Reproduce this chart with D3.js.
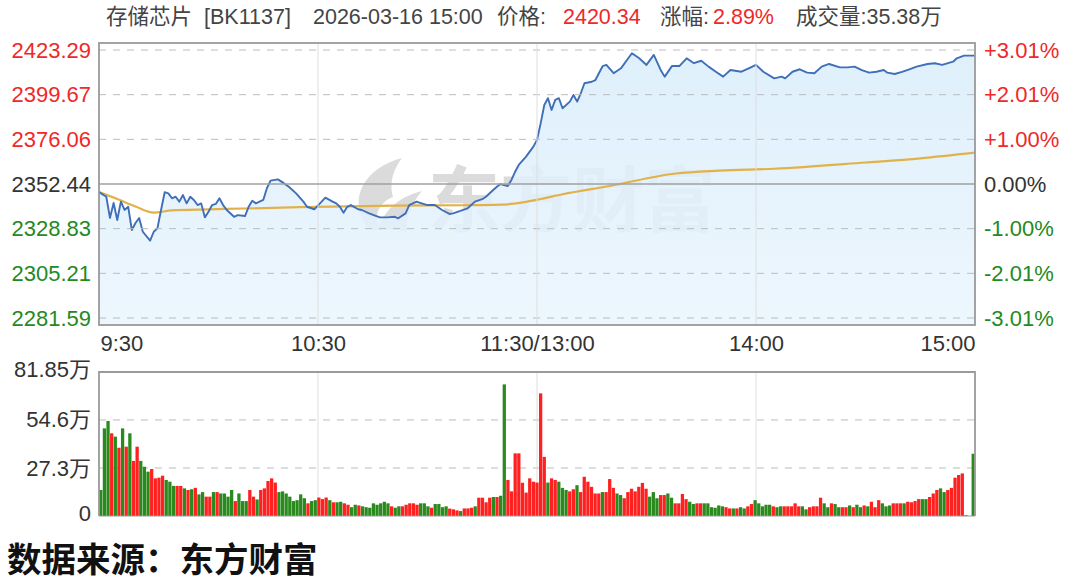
<!DOCTYPE html>
<html>
<head>
<meta charset="utf-8">
<script src="https://cdn.jsdelivr.net/npm/d3@7"></script>
<style>
  html, body { margin: 0; padding: 0; background: #fff; }
  svg { display: block; }
</style>
</head>
<body>
<svg id="chart" width="1080" height="587"></svg>
<script>
// ---------------- DATA ----------------
const titleName = "存储芯片";
const titleCode = "[BK1137]";
const timestamp = "2026-03-16 15:00";
const lastPrice = "2420.34";
const changePct = "2.89%";
const lastVolume = "35.38万";
const sourceText = "数据来源：东方财富";
const watermarkText = "东方财富";

const preClose = 2352.44;
const priceTicks = [2423.29, 2399.67, 2376.06, 2352.44, 2328.83, 2305.21, 2281.59];
const pctLabels = ["+3.01%", "+2.01%", "+1.00%", "0.00%", "-1.00%", "-2.01%", "-3.01%"];
const volTicks = [81.85, 54.6, 27.3, 0];
const volLabels = ["81.85万", "54.6万", "27.3万", "0"];
const timeTicks = [0, 60, 120, 180, 240];
const timeLabels = ["9:30", "10:30", "11:30/13:00", "14:00", "15:00"];

// price readings: minute index (0 = 9:30, 120 = 11:30/13:00, 240 = 15:00) and price
const priceMinutes = [0,2,3,4,5,6,7,8,9,10,11,12,14,15,16,17,18,19,20,21,22,23,24,25,26,27,28,29,30,31,32,33,34,35,37,38,40,41,42,43,45,46,47,49,50,52,54,56,57,59,61,62,64,65,66,67,68,69,71,72,74,76,77,79,81,82,84,85,87,88,90,92,94,96,97,99,101,103,105,106,108,109,110,112,113,114,115,117,119,120,121,122,123,124,125,126,127,129,130,131,132,133,135,136,138,139,141,143,145,146,148,150,152,154,155,157,159,161,163,165,167,169,171,173,176,178,180,182,185,187,188,190,192,194,196,198,200,203,205,207,209,211,213,215,216,218,220,222,224,227,229,231,234,235,237,240];
const priceValues = [2348.2,2345.7,2334.5,2342.4,2333.4,2343.1,2338.7,2340.4,2328.1,2331.8,2334.5,2327.2,2322.5,2327.2,2329.0,2338.7,2348.1,2347.5,2344.9,2345.7,2343.1,2346.6,2342.2,2345.7,2344.0,2341.3,2342.2,2334.8,2337.8,2341.3,2341.9,2344.9,2341.3,2338.7,2335.1,2336.0,2335.5,2340.4,2343.6,2342.2,2344.0,2350.2,2354.2,2354.9,2353.7,2351.0,2347.5,2343.1,2340.4,2339.1,2343.1,2345.2,2343.1,2342.2,2340.4,2337.3,2340.4,2341.3,2339.1,2338.7,2336.9,2335.5,2334.8,2334.8,2335.1,2334.3,2336.9,2341.3,2343.1,2342.5,2341.3,2341.3,2338.7,2336.6,2336.9,2338.2,2339.6,2343.1,2344.4,2345.7,2349.3,2351.0,2352.4,2351.4,2354.6,2358.9,2362.5,2366.9,2372.2,2375.7,2384.5,2394.2,2397.8,2391.6,2396.9,2397.8,2392.5,2396.0,2399.5,2396.0,2400.4,2405.7,2406.5,2407.4,2414.8,2415.4,2411.0,2413.6,2418.9,2421.6,2418.9,2415.4,2420.7,2412.3,2409.2,2414.9,2414.8,2418.9,2416.3,2417.6,2414.5,2411.8,2409.2,2412.7,2411.8,2413.6,2415.4,2411.8,2408.3,2409.2,2408.3,2411.8,2413.1,2411.3,2411.0,2414.5,2415.9,2414.1,2414.1,2414.5,2412.7,2411.3,2411.8,2412.7,2411.3,2410.6,2411.7,2413.1,2414.5,2415.9,2416.3,2415.4,2417.1,2418.9,2420.3,2420.34];

// average price readings
const avgMinutes = [0,5,10,15,20,30,55,81,100,110,117,121,127,140,158,170,185,210,225,240];
const avgValues = [2348.2,2344.5,2340.5,2337.3,2338.5,2339.0,2340.2,2341.0,2341.2,2341.5,2343.0,2344.5,2347.0,2351.4,2358.0,2359.5,2360.5,2363.8,2366.0,2369.0];

// per-minute volume (万), 241 bars
const volumes = [
14.8,49.8,54.0,47.0,45.1,38.8,49.8,39.4,47.0,31.3,
39.4,31.3,28.0,25.2,26.7,21.4,21.8,22.9,20.5,19.5,
17.1,17.1,17.1,15.7,14.8,15.2,16.0,12.3,13.6,11.0,
11.0,13.6,13.6,12.8,12.8,11.0,14.8,8.5,12.8,8.5,
8.5,14.8,11.0,9.4,14.8,15.7,19.9,21.4,19.0,13.6,
14.0,12.8,11.0,8.5,9.0,12.3,10.1,7.2,8.5,9.0,
10.5,9.6,10.5,9.0,7.8,7.8,
8.1,7.2,6.4,5.0,6.4,6.0,5.5,5.0,4.7,7.2,
6.4,7.2,8.1,7.2,5.5,4.7,5.5,5.5,6.4,7.2,
7.2,6.4,7.2,7.2,5.5,4.7,6.8,6.8,5.0,5.5,
4.2,3.8,3.2,2.8,4.3,4.3,4.7,5.5,10.4,10.4,
7.8,10.4,10.8,10.8,11.5,74.8,20.5,14.0,35.6,35.6,
18.9,13.3,21.4,19.5,19.0,69.7,33.6,19.0,21.4,20.5,
19.5,16.0,14.8,14.0,15.2,17.5,13.6,22.3,19.5,16.6,
12.8,12.8,13.6,13.6,21.0,16.0,12.8,11.9,10.1,13.6,
15.5,14.0,16.6,18.8,15.5,11.0,13.6,10.1,11.9,11.9,
12.8,10.4,7.2,7.2,12.5,9.6,8.1,6.8,7.2,
7.2,7.2,7.2,5.0,4.7,6.0,5.5,5.0,4.3,4.3,
4.3,5.0,4.3,5.5,6.8,9.0,7.2,5.5,6.4,6.4,
5.5,5.0,5.5,5.5,5.5,5.5,7.2,5.5,5.5,3.8,
5.0,5.5,5.5,10.4,7.2,5.0,7.2,6.8,5.0,5.0,
5.0,6.0,5.0,6.4,5.0,6.0,5.5,8.1,5.0,9.0,
7.2,5.5,6.0,7.2,7.2,7.2,7.2,8.1,7.8,8.5,
9.6,9.6,9.6,10.8,12.8,14.8,15.7,13.6,14.8,16.0,
21.8,23.3,24.2,0.5,0,35.38
];
// bar direction per minute: R = up (red), G = down (green)
const volumeDirs = (
"GGGRGRGRGR" + "RGGGRRRRGG" + "GRRGRGRGGR" + "RGRGGGGRGG" + "GRRGRRRRRG" + "GGGGGGGRGG" + "RRRGRG" +
"GRRGGRGGGG" + "GGGGRGGRRR" + "RRGGGRGGGG" + "RRRGRRRGRR" + "RRGRGGRRRR" + "RRRRRRRGRR" +
"GGGRRGRRRR" + "RRGRRRGGRR" + "RRRRRGGGRR" + "GGRRRRGGR" +
"RGGGGGGRRG" + "RGGRRGGGGG" + "RGGRRRRRGG" + "RRRRGGRGGR" + "RGRGGRGRRR" + "GGGRRRGRRR" +
"RGGRRRGGRR" + "RRRRRG"
).split("");

// ---------------- LAYOUT ----------------
const svg = d3.select("#chart");
const LAT = "'Liberation Sans', Arial, 'Noto Sans CJK SC', sans-serif";
const CJK = "'Noto Sans CJK SC', 'Liberation Sans', sans-serif";
const RED = "#f02828", GREEN = "#238a23", GRAY = "#333";
const BAR_RED = "#ff2020", BAR_GREEN = "#2a8a1e";

const P = {left: 99, right: 975, top: 43, bottom: 325};
const V = {left: 99, right: 975, top: 372, bottom: 516};

const x = d3.scaleLinear().domain([0, 240]).range([P.left, P.right]);
const xb = d3.scaleBand().domain(d3.range(241)).range([V.left, V.right]).paddingInner(0.1).paddingOuter(0.04);
const y = d3.scaleLinear().domain([2281.59, 2423.29]).range([318, 50]);
const yv = d3.scaleLinear().domain([0, 81.85]).range([V.bottom, V.top]);

const tickColor = v => v > preClose + 0.001 ? RED : (v < preClose - 0.001 ? GREEN : GRAY);

// ---------------- HEADER ----------------
const HF = 21.5;
const hg = svg.append("g").attr("font-family", LAT).attr("font-size", HF);
const headerItems = [
  {t: titleName, x: 106, c: "#444"},
  {t: titleCode, x: 204, c: "#444"},
  {t: timestamp, x: 313, c: "#444"},
  {t: "价格:", x: 497, c: "#444"},
  {t: lastPrice, x: 563, c: RED},
  {t: "涨幅:", x: 660, c: "#444"},
  {t: changePct, x: 713, c: RED},
  {t: "成交量:" + lastVolume, x: 796, c: "#444"}
];
hg.selectAll("text").data(headerItems).join("text")
  .attr("x", d => d.x).attr("y", 24).attr("fill", d => d.c).text(d => d.t);

// ---------------- PRICE PANEL ----------------
const defs = svg.append("defs");
defs.append("clipPath").attr("id", "pclip").append("rect")
  .attr("x", P.left).attr("y", P.top).attr("width", P.right - P.left).attr("height", P.bottom - P.top);
const grad = defs.append("linearGradient").attr("id", "fillGrad").attr("x1", 0).attr("x2", 0).attr("y1", 0).attr("y2", 1);
grad.append("stop").attr("offset", "0%").attr("stop-color", "#d9edfb");
grad.append("stop").attr("offset", "100%").attr("stop-color", "#eaf5fd");

const pg = svg.append("g");

// watermark
const wm = pg.append("g").attr("opacity", 0.3);
wm.append("path")
  .attr("d", "M370,230 C348,206 358,170 402,158 C393,170 389,183 393,197 C380,202 373,215 379,226 C388,205 403,196 422,191 C411,204 405,219 407,232 C396,228 383,230 370,230 Z")
  .attr("fill", "#8a8a8a");
wm.append("text").attr("x", 428).attr("y", 226)
  .attr("font-family", CJK).attr("font-size", 72).attr("font-weight", 700)
  .attr("fill", "#8a8a8a").text(watermarkText);

// area + line
const pts = priceMinutes.map((m, i) => ({m, v: priceValues[i]}));
const avgPts = avgMinutes.map((m, i) => ({m, v: avgValues[i]}));

const plot = pg.append("g").attr("clip-path", "url(#pclip)");
plot.append("path").datum(pts)
  .attr("fill", "url(#fillGrad)").attr("fill-opacity", 0.85)
  .attr("d", d3.area().x(d => x(d.m)).y0(P.bottom).y1(d => y(d.v)));

// gridlines
const gg = pg.append("g");
gg.selectAll("line.h").data(priceTicks.filter(v => v !== preClose)).join("line")
  .attr("x1", P.left).attr("x2", P.right)
  .attr("y1", d => y(d)).attr("y2", d => y(d))
  .attr("stroke", "#bcbcbc").attr("stroke-width", 1).attr("stroke-dasharray", "7,7");
gg.selectAll("line.v").data(timeTicks.slice(1, -1)).join("line")
  .attr("x1", d => x(d)).attr("x2", d => x(d))
  .attr("y1", P.top).attr("y2", P.bottom)
  .attr("stroke", "#dedede").attr("stroke-width", 1);
gg.append("line").attr("x1", P.left).attr("x2", P.right)
  .attr("y1", y(preClose)).attr("y2", y(preClose))
  .attr("stroke", "#a0a0a0").attr("stroke-width", 1.5);

plot.append("path").datum(avgPts)
  .attr("fill", "none").attr("stroke", "#e2b24a").attr("stroke-width", 2.2)
  .attr("d", d3.line().x(d => x(d.m)).y(d => y(d.v)).curve(d3.curveMonotoneX));
plot.append("path").datum(pts)
  .attr("fill", "none").attr("stroke", "#3f6fb8").attr("stroke-width", 1.9)
  .attr("stroke-linejoin", "round")
  .attr("d", d3.line().x(d => x(d.m)).y(d => y(d.v)));

pg.append("rect").attr("x", P.left).attr("y", P.top)
  .attr("width", P.right - P.left).attr("height", P.bottom - P.top)
  .attr("fill", "none").attr("stroke", "#9a9a9a").attr("stroke-width", 1.8);

// axes
const AF = 22;
function styleAxis(g) {
  g.select(".domain").remove();
  g.selectAll(".tick line").remove();
  g.selectAll(".tick text").attr("font-family", LAT).attr("font-size", AF);
}
const leftAx = svg.append("g").attr("transform", `translate(91,0)`)
  .call(d3.axisLeft(y).tickValues(priceTicks).tickSize(0).tickPadding(0).tickFormat(d3.format(".2f")))
  .call(styleAxis);
leftAx.selectAll(".tick text").attr("fill", d => tickColor(d));

const rightAx = svg.append("g").attr("transform", `translate(984,0)`)
  .call(d3.axisRight(y).tickValues(priceTicks).tickSize(0).tickPadding(0)
    .tickFormat(d => pctLabels[priceTicks.indexOf(d)]))
  .call(styleAxis);
rightAx.selectAll(".tick text").attr("fill", d => tickColor(d));

const timeAx = svg.append("g").attr("transform", `translate(0,335)`)
  .call(d3.axisBottom(x).tickValues(timeTicks).tickSize(0).tickPadding(0)
    .tickFormat(d => timeLabels[timeTicks.indexOf(d)]))
  .call(styleAxis);
timeAx.selectAll(".tick text").attr("fill", GRAY)
  .attr("text-anchor", (d, i) => i === 0 ? "start" : (i === timeTicks.length - 1 ? "end" : "middle"))
  .attr("dx", (d, i) => i === 0 ? 1 : 0);

// ---------------- VOLUME PANEL ----------------
const vg = svg.append("g");
vg.selectAll("line.h").data(volTicks.filter(v => v > 0 && v < 81.85)).join("line")
  .attr("x1", V.left).attr("x2", V.right)
  .attr("y1", d => yv(d)).attr("y2", d => yv(d))
  .attr("stroke", "#bcbcbc").attr("stroke-width", 1).attr("stroke-dasharray", "7,7");
vg.selectAll("line.v").data(timeTicks.slice(1, -1)).join("line")
  .attr("x1", d => x(d)).attr("x2", d => x(d))
  .attr("y1", V.top).attr("y2", V.bottom)
  .attr("stroke", "#dedede").attr("stroke-width", 1);

vg.selectAll("rect.bar").data(volumes).join("rect")
  .attr("x", (d, i) => xb(i)).attr("width", xb.bandwidth())
  .attr("y", d => yv(d)).attr("height", d => V.bottom - yv(d))
  .attr("fill", (d, i) => volumeDirs[i] === "R" ? BAR_RED : BAR_GREEN);

vg.append("path")
  .attr("d", `M${V.left},${V.bottom} L${V.left},${V.top} L${V.right},${V.top} L${V.right},${V.bottom}`)
  .attr("fill", "none").attr("stroke", "#9a9a9a").attr("stroke-width", 1.8);
vg.append("line").attr("x1", V.left).attr("x2", V.right).attr("y1", V.bottom).attr("y2", V.bottom)
  .attr("stroke", "#9a9a9a").attr("stroke-width", 1);

const volAx = svg.append("g").attr("transform", `translate(91,0)`)
  .call(d3.axisLeft(yv).tickValues(volTicks).tickSize(0).tickPadding(0)
    .tickFormat(d => volLabels[volTicks.indexOf(d)]))
  .call(styleAxis);
volAx.selectAll(".tick text").attr("fill", GRAY);
volAx.selectAll(".tick").filter(d => d === 81.85).select("text").attr("dy", "0.22em");
volAx.selectAll(".tick").filter(d => d === 0).select("text").attr("dy", "0.22em");

// ---------------- FOOTER ----------------
svg.append("text").attr("x", 7).attr("y", 572)
  .attr("font-family", CJK).attr("font-size", 34.5).attr("font-weight", 700)
  .attr("fill", "#111").text(sourceText);
</script>
</body>
</html>
